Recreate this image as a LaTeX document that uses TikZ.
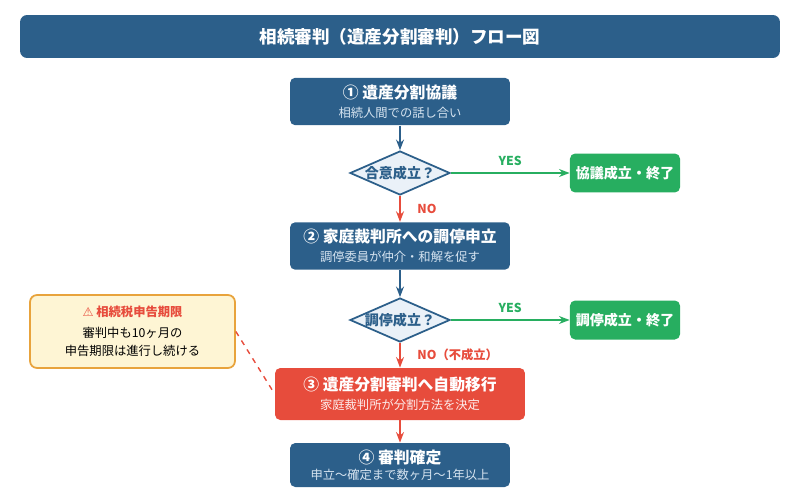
\documentclass[tikz,border=0pt]{standalone}
\usepackage{fontspec}
\setmainfont{Noto Sans CJK JP}
\newfontfamily\symfont{DejaVu Sans}
\usetikzlibrary{shapes.geometric,arrows.meta}
\definecolor{navy}{HTML}{2C5F8A}
\definecolor{lightbg}{HTML}{EAF1F8}
\definecolor{okgreen}{HTML}{27AE60}
\definecolor{alert}{HTML}{E74C3C}
\definecolor{warnbg}{HTML}{FEF5D4}
\definecolor{warnline}{HTML}{E8A33C}
\definecolor{subtext}{HTML}{D6E4F0}
\begin{document}
\begin{tikzpicture}[x=0.02cm,y=-0.02cm,
            stage/.style={fill=navy, rounded corners=3pt, minimum width=4.4cm, minimum height=0.95cm, text=white, align=center, inner sep=0pt, font=\small},
            check/.style={diamond, aspect=2.3, draw=navy, line width=1pt, fill=lightbg, minimum width=2cm, minimum height=0.88cm, inner sep=-3pt, font=\bfseries\footnotesize, text=navy},
            done/.style={fill=okgreen, rounded corners=3pt, minimum width=2.2cm, minimum height=0.78cm, text=white, font=\bfseries\footnotesize},
            flow/.style={-{Stealth[length=6pt]}, line width=1.2pt, draw=navy},
            fail/.style={-{Stealth[length=6pt]}, line width=1.2pt, draw=alert},
            pass/.style={-{Stealth[length=6pt]}, line width=1.2pt, draw=okgreen},
            yes/.style={text=okgreen, font=\bfseries\scriptsize},
            no/.style={text=alert, font=\bfseries\scriptsize}
        ]
            \useasboundingbox (0,0) rectangle (800,500);
            % title
            \node[fill=navy, rounded corners=4pt, minimum width=15.2cm, minimum height=0.86cm, text=white, font=\bfseries] (title) at (400,36.5) {相続審判（遺産分割審判）フロー図};
            % stages
            \node[stage] (kyogi) at (400,101.5) {{\bfseries ① 遺産分割協議}\\[0pt]{\scriptsize\color{subtext}相続人間での話し合い}};
            \node[check] (gohi1) at (400,173) {合意成立？};
            \node[done] (end1) at (625,173) {協議成立・終了};
            \node[stage] (chotei) at (400,246) {{\bfseries ② 家庭裁判所への調停申立}\\[0pt]{\scriptsize\color{subtext}調停委員が仲介・和解を促す}};
            \node[check] (gohi2) at (400,320) {調停成立？};
            \node[done] (end2) at (625,320) {調停成立・終了};
            \node[stage, fill=alert, minimum width=5cm, minimum height=1.04cm] (shinpan) at (400,394) {{\bfseries ③ 遺産分割審判へ自動移行}\\[0pt]{\scriptsize\color{white!90!alert}家庭裁判所が分割方法を決定}};
            \node[stage, minimum height=0.88cm] (kakutei) at (400,465) {{\bfseries ④ 審判確定}\\[-2pt]{\scriptsize\color{subtext}申立〜確定まで数ヶ月〜1年以上}};
            % warning
            \node[fill=warnbg, draw=warnline, line width=1pt, rounded corners=4pt, minimum width=4.1cm, minimum height=1.46cm, align=center, font=\scriptsize] (warn) at (132.5,331.5) {{\color{alert}\bfseries{\symfont ⚠} 相続税申告期限}\\[4pt]審判中も10ヶ月の\\[2pt]申告期限は進行し続ける};
            % connectors
            \draw[flow] (kyogi) -- (gohi1);
            \draw[fail] (gohi1) -- node[no, right, xshift=6pt] {NO} (chotei);
            \draw[pass] (gohi1) -- node[yes, above, pos=0.5] {YES} (end1);
            \draw[flow] (chotei) -- (gohi2);
            \draw[fail] (gohi2) -- node[no, right, xshift=6pt] {NO（不成立）} (shinpan);
            \draw[pass] (gohi2) -- node[yes, above, pos=0.5] {YES} (end2);
            \draw[fail] (shinpan) -- (kakutei);
            \draw[alert, dashed, line width=0.8pt] (warn.east) -- (shinpan.west);
        \end{tikzpicture}
\end{document}
